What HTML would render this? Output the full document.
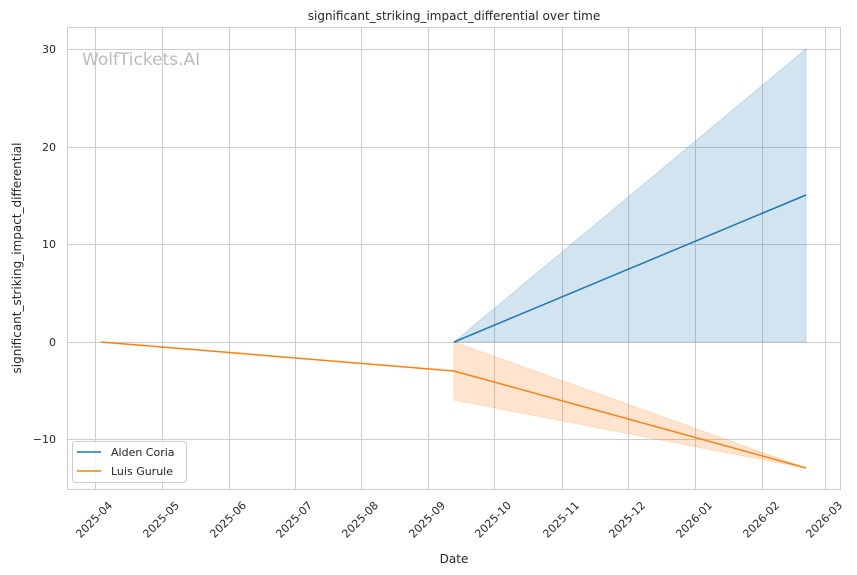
<!DOCTYPE html>
<html><head><meta charset="utf-8"><style>
html,body{margin:0;padding:0;background:#fff;}
svg{display:block;font-family:"DejaVu Sans","Liberation Sans",sans-serif;}
</style></head><body>
<svg width="857" height="575" viewBox="0 0 857 575" xmlns="http://www.w3.org/2000/svg">
<rect width="857" height="575" fill="#fff"/>
<g stroke="#cccccc" stroke-width="1">
<line x1="95.5" y1="27" x2="95.5" y2="489"/>
<line x1="162.5" y1="27" x2="162.5" y2="489"/>
<line x1="229.5" y1="27" x2="229.5" y2="489"/>
<line x1="295.5" y1="27" x2="295.5" y2="489"/>
<line x1="361.5" y1="27" x2="361.5" y2="489"/>
<line x1="428.5" y1="27" x2="428.5" y2="489"/>
<line x1="494.5" y1="27" x2="494.5" y2="489"/>
<line x1="562.5" y1="27" x2="562.5" y2="489"/>
<line x1="628.5" y1="27" x2="628.5" y2="489"/>
<line x1="695.5" y1="27" x2="695.5" y2="489"/>
<line x1="762.5" y1="27" x2="762.5" y2="489"/>
<line x1="825.5" y1="27" x2="825.5" y2="489"/>
<line x1="67" y1="49.5" x2="841" y2="49.5"/>
<line x1="67" y1="147.5" x2="841" y2="147.5"/>
<line x1="67" y1="244.5" x2="841" y2="244.5"/>
<line x1="67" y1="342.5" x2="841" y2="342.5"/>
<line x1="67" y1="439.5" x2="841" y2="439.5"/>
</g>
<rect x="67.5" y="27.5" width="773" height="462" fill="none" stroke="#cccccc"/>
<text x="82" y="65" font-size="17" fill="#bbbbbb">WolfTickets.AI</text>
<polygon points="454,342 806,49 806,342" fill="#1f77b4" fill-opacity="0.2" stroke="#1f77b4" stroke-opacity="0.2"/>
<polygon points="454,342 806,468 454,400" fill="#ff7f0e" fill-opacity="0.2" stroke="#ff7f0e" stroke-opacity="0.2"/>
<polyline points="454,342 806,195" fill="none" stroke="#1f77b4" stroke-width="1.5"/>
<polyline points="101,342 454,371 806,468" fill="none" stroke="#ff7f0e" stroke-width="1.5"/>
<g font-size="11" fill="#262626" text-anchor="end">
<text x="56" y="53">30</text>
<text x="56" y="151">20</text>
<text x="56" y="248">10</text>
<text x="56" y="346">0</text>
<text x="56" y="443">−10</text>
</g>
<g font-size="11" fill="#262626" text-anchor="end">
<text transform="translate(113,506) rotate(-45)">2025-04</text>
<text transform="translate(180,506) rotate(-45)">2025-05</text>
<text transform="translate(247,506) rotate(-45)">2025-06</text>
<text transform="translate(313,506) rotate(-45)">2025-07</text>
<text transform="translate(379,506) rotate(-45)">2025-08</text>
<text transform="translate(446,506) rotate(-45)">2025-09</text>
<text transform="translate(512,506) rotate(-45)">2025-10</text>
<text transform="translate(580,506) rotate(-45)">2025-11</text>
<text transform="translate(646,506) rotate(-45)">2025-12</text>
<text transform="translate(713,506) rotate(-45)">2026-01</text>
<text transform="translate(780,506) rotate(-45)">2026-02</text>
<text transform="translate(843,506) rotate(-45)">2026-03</text>
</g>
<text x="454" y="563" font-size="12" fill="#262626" text-anchor="middle">Date</text>
<text transform="translate(21,258) rotate(-90)" font-size="12" fill="#262626" text-anchor="middle">significant_striking_impact_differential</text>
<text x="454" y="20" font-size="12" fill="#262626" text-anchor="middle">significant_striking_impact_differential over time</text>
<rect x="72.5" y="441.5" width="114" height="41" rx="3" fill="#fff" fill-opacity="0.8" stroke="#cccccc"/>
<line x1="77" y1="452" x2="101" y2="452" stroke="#1f77b4" stroke-width="1.5"/>
<line x1="77" y1="471" x2="101" y2="471" stroke="#ff7f0e" stroke-width="1.5"/>
<text x="111" y="456" font-size="11" fill="#262626">Alden Coria</text>
<text x="111" y="475" font-size="11" fill="#262626">Luis Gurule</text>
</svg>
</body></html>
